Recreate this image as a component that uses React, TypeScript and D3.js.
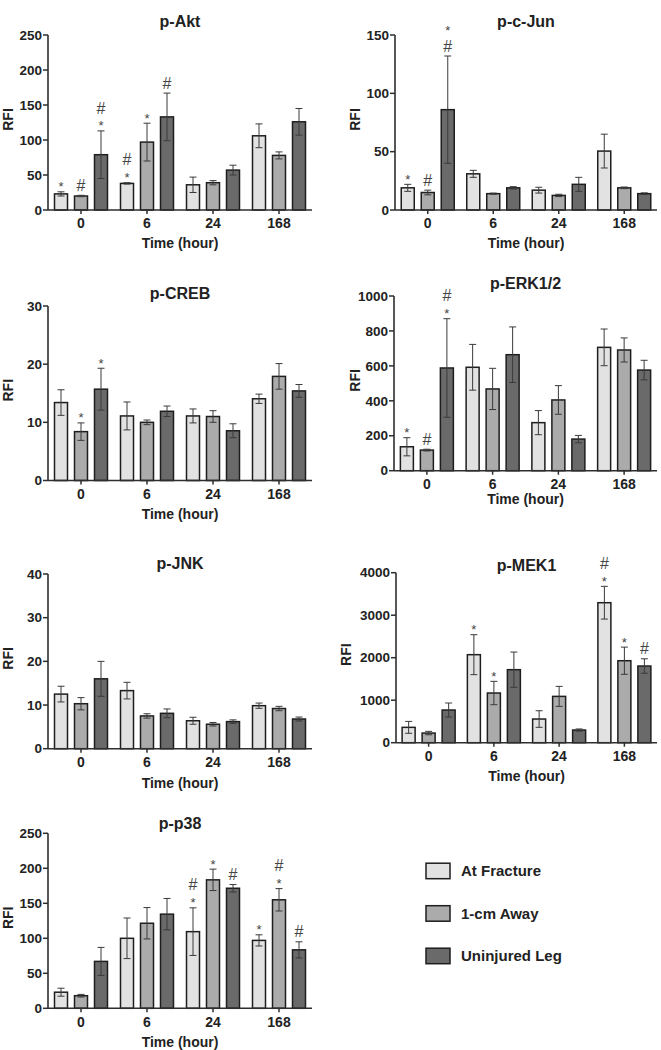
import React from "react";
import * as d3 from "d3";

// ---------- DATA ----------
const timepoints = ["0", "6", "24", "168"];
const seriesNames = ["At Fracture", "1-cm Away", "Uninjured Leg"];
const seriesFill = ["#e2e2e2", "#ababab", "#6a6a6a"];

// rows = series (At Fracture, 1-cm Away, Uninjured Leg), cols = timepoints
const aktMeans = [[23, 38, 36, 106], [20, 97, 39, 78], [79, 133, 57, 126]];
const aktErr = [[3, 1, 11, 17], [1, 27, 3, 5], [34, 34, 7, 19]];
const aktMarks = [["*", "*#", "", ""], ["#", "*", "", ""], ["*#", "#", "", ""]];
const aktTicks = [0, 50, 100, 150, 200, 250];

const junMeans = [[19, 31, 17, 50.5], [15, 14, 12.5, 19], [86, 19, 22, 14]];
const junErr = [[3, 3, 2.5, 14.5], [2, 0.5, 1, 0.7], [46, 1, 6, 0.7]];
const junMarks = [["*", "", "", ""], ["#", "", "", ""], ["#*", "", "", ""]];
const junTicks = [0, 50, 100, 150];

const crebMeans = [[13.4, 11.1, 11.1, 14.05], [8.4, 10.0, 11.0, 17.9], [15.7, 11.9, 8.55, 15.4]];
const crebErr = [[2.2, 2.4, 1.2, 0.8], [1.5, 0.4, 1.0, 2.2], [3.6, 0.9, 1.2, 1.1]];
const crebMarks = [["", "", "", ""], ["*", "", "", ""], ["*", "", "", ""]];
const crebTicks = [0, 10, 20, 30];

const erkMeans = [[137, 592, 275, 706], [118, 468, 405, 691], [588, 664, 181, 576]];
const erkErr = [[52, 131, 69, 105], [5, 118, 82, 69], [282, 159, 21, 56]];
const erkMarks = [["*", "", "", ""], ["#", "", "", ""], ["*#", "", "", ""]];
const erkTicks = [0, 200, 400, 600, 800, 1000];

const jnkMeans = [[12.5, 13.3, 6.4, 9.85], [10.3, 7.5, 5.6, 9.2], [16.0, 8.1, 6.2, 6.8]];
const jnkErr = [[1.8, 1.9, 0.8, 0.6], [1.4, 0.5, 0.4, 0.5], [4.0, 1.0, 0.4, 0.45]];
const jnkMarks = [["", "", "", ""], ["", "", "", ""], ["", "", "", ""]];
const jnkTicks = [0, 10, 20, 30, 40];

const mekMeans = [[361, 2071, 557, 3294], [227, 1169, 1090, 1929], [769, 1718, 298, 1804]];
const mekErr = [[140, 470, 195, 385], [40, 275, 235, 320], [165, 415, 25, 170]];
const mekMarks = [["", "*", "", "*#"], ["", "*", "", "*"], ["", "", "", "#"]];
const mekTicks = [0, 1000, 2000, 3000, 4000];

const p38Means = [[23, 100, 109.5, 97], [18, 121.5, 183.5, 155], [67, 134.5, 171.5, 83.5]];
const p38Err = [[5.7, 29, 34, 8], [1.9, 22.4, 15.3, 16], [20, 22.4, 5.3, 11.5]];
const p38Marks = [["", "", "*#", "*"], ["", "", "*", "*#"], ["", "", "#", "#"]];
const p38Ticks = [0, 50, 100, 150, 200, 250];

// ---------- LAYOUT ----------
const panels = [
  { title: "p-Akt", means: aktMeans, err: aktErr, marks: aktMarks, ticks: aktTicks,
    x0: 48, x1: 312, yTop: 35, y0: 210, titleY: 21, xLabelY: 243, rfiX: 8 },
  { title: "p-c-Jun", means: junMeans, err: junErr, marks: junMarks, ticks: junTicks,
    x0: 395, x1: 657, yTop: 35, y0: 210, titleY: 21, xLabelY: 243, rfiX: 355 },
  { title: "p-CREB", means: crebMeans, err: crebErr, marks: crebMarks, ticks: crebTicks,
    x0: 48, x1: 312, yTop: 306, y0: 480.5, titleY: 293, xLabelY: 514, rfiX: 8 },
  { title: "p-ERK1/2", means: erkMeans, err: erkErr, marks: erkMarks, ticks: erkTicks,
    x0: 394, x1: 657, yTop: 296, y0: 470.7, titleY: 283, xLabelY: 499, rfiX: 355 },
  { title: "p-JNK", means: jnkMeans, err: jnkErr, marks: jnkMarks, ticks: jnkTicks,
    x0: 48, x1: 312, yTop: 574, y0: 748.7, titleY: 563, xLabelY: 782.7, rfiX: 8 },
  { title: "p-MEK1", means: mekMeans, err: mekErr, marks: mekMarks, ticks: mekTicks,
    x0: 396, x1: 657, yTop: 572.7, y0: 742.7, titleY: 565, xLabelY: 776, rfiX: 346 },
  { title: "p-p38", means: p38Means, err: p38Err, marks: p38Marks, ticks: p38Ticks,
    x0: 48, x1: 312, yTop: 833.3, y0: 1008.3, titleY: 823, xLabelY: 1041.7, rfiX: 8 },
];

const FONT = "'Liberation Sans', Arial, Helvetica, sans-serif";
const AXIS = "#2e2e2e";

function Panel({ p }: { p: any }) {
  const x = d3.scaleBand<string>().domain(timepoints).range([p.x0, p.x1]).paddingInner(0).paddingOuter(0);
  const xs = d3.scaleBand<string>().domain(seriesNames).range([-26.5, 26.5]).paddingInner(0.35).paddingOuter(0);
  const maxTick = p.ticks[p.ticks.length - 1];
  const y = d3.scaleLinear().domain([0, maxTick]).range([p.y0, p.yTop]);
  const bw = xs.bandwidth();
  const midX = (p.x0 + p.x1) / 2;
  const midY = (p.y0 + p.yTop) / 2 - 3;

  const bars: any[] = [];
  const errs: any[] = [];
  const marks: any[] = [];
  seriesNames.forEach((s, si) => {
    timepoints.forEach((t, ti) => {
      const m = p.means[si][ti];
      const e = p.err[si][ti];
      const cx = (x(t) as number) + x.bandwidth() / 2 + (xs(s) as number) + bw / 2;
      bars.push(
        <rect key={`b${si}-${ti}`} x={cx - bw / 2} y={y(m)} width={bw} height={p.y0 - y(m)}
          fill={seriesFill[si]} stroke="#1e1e1e" strokeWidth={1.5} />
      );
      const top = y(m + e);
      const bot = y(Math.max(0, m - e));
      errs.push(
        <g key={`e${si}-${ti}`} stroke="#3a3a3a" strokeWidth={1}>
          <line x1={cx} x2={cx} y1={top} y2={bot} />
          <line x1={cx - 3.5} x2={cx + 3.5} y1={top} y2={top} />
          <line x1={cx - 3.5} x2={cx + 3.5} y1={bot} y2={bot} />
        </g>
      );
      const str: string = p.marks[si][ti];
      let c = top;
      str.split("").forEach((ch, k) => {
        if (k === 0) c = top - (ch === "*" ? 8 : 10);
        else c = c - (ch === "*" ? 18 : 15);
        if (ch === "*") {
          marks.push(
            <text key={`m${si}-${ti}-${k}`} x={cx} y={c + 0.57 * 13} fontSize={13} textAnchor="middle"
              fill="#444" fontFamily={FONT}>*</text>
          );
        } else {
          marks.push(
            <text key={`m${si}-${ti}-${k}`} x={cx} y={c + 0.35 * 16} fontSize={16} textAnchor="middle"
              fill="#444" fontFamily={FONT}>#</text>
          );
        }
      });
    });
  });

  return (
    <g fontFamily={FONT}>
      <text x={midX} y={p.titleY} dy="0.35em" textAnchor="middle" fontSize={16} fontWeight="bold" fill="#222">
        {p.title}
      </text>
      {bars}
      {errs}
      {marks}
      {/* y axis */}
      <line x1={p.x0} x2={p.x0} y1={p.y0} y2={p.yTop} stroke={AXIS} strokeWidth={1.6} />
      {p.ticks.map((t: number) => (
        <g key={`yt${t}`}>
          <line x1={p.x0 - 5} x2={p.x0} y1={y(t)} y2={y(t)} stroke={AXIS} strokeWidth={1.5} />
          <text x={p.x0 - 6} y={y(t)} dy="0.35em" textAnchor="end" fontSize={13.5} fontWeight="bold" fill="#222">
            {t}
          </text>
        </g>
      ))}
      {/* x axis */}
      <line x1={p.x0} x2={p.x1} y1={p.y0} y2={p.y0} stroke={AXIS} strokeWidth={1.6} />
      {timepoints.map((t) => {
        const cx = (x(t) as number) + x.bandwidth() / 2;
        return (
          <g key={`xt${t}`}>
            <line x1={cx} x2={cx} y1={p.y0} y2={p.y0 + 4} stroke={AXIS} strokeWidth={1.5} />
            <text x={cx} y={p.y0 + 13.5} dy="0.35em" textAnchor="middle" fontSize={14} fontWeight="bold" fill="#222">
              {t}
            </text>
          </g>
        );
      })}
      <text x={midX} y={p.xLabelY} dy="0.35em" textAnchor="middle" fontSize={14} fontWeight="bold" fill="#222">
        Time (hour)
      </text>
      <text transform={`translate(${p.rfiX},${midY}) rotate(-90)`} dy="0.35em" textAnchor="middle"
        fontSize={14} fontWeight="bold" fill="#222">
        RFI
      </text>
    </g>
  );
}

const legendY = d3.scalePoint<string>().domain(seriesNames).range([871, 956]);

export default function App() {
  return (
    <svg width={661} height={1050} style={{ position: "absolute", left: 0, top: 0, background: "#fff" }}>
      <rect x={0} y={0} width={661} height={1050} fill="#fff" />
      {panels.map((p) => (
        <Panel key={p.title} p={p} />
      ))}
      <g fontFamily={FONT}>
        {seriesNames.map((s, i) => (
          <g key={s}>
            <rect x={426} y={(legendY(s) as number) - 7.8} width={24} height={15.5} fill={seriesFill[i]}
              stroke="#1e1e1e" strokeWidth={1.5} />
            <text x={461} y={legendY(s) as number} dy="0.35em" fontSize={15} fontWeight="bold" fill="#222">
              {s}
            </text>
          </g>
        ))}
      </g>
    </svg>
  );
}
